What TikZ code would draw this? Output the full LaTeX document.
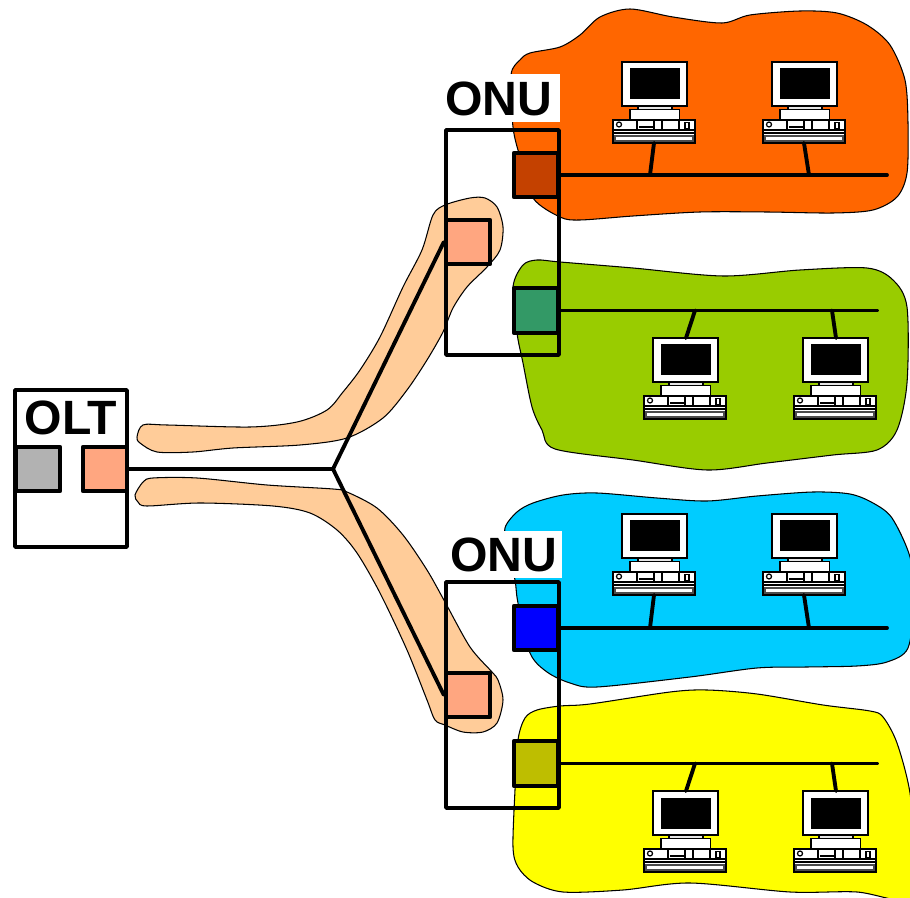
\documentclass[tikz,border=0pt]{standalone}
\usepackage{fontspec}
\setmainfont{Liberation Sans}
\definecolor{orangeblob}{RGB}{255,102,0}
\definecolor{greenblob}{RGB}{153,204,0}
\definecolor{blueblob}{RGB}{0,204,255}
\definecolor{yellowblob}{RGB}{255,255,0}
\definecolor{fibreblob}{RGB}{255,204,153}
\definecolor{portpeach}{RGB}{255,166,128}
\definecolor{portorange}{RGB}{196,65,0}
\definecolor{portgreen}{RGB}{51,153,102}
\definecolor{portblue}{RGB}{0,0,255}
\definecolor{portolive}{RGB}{190,190,0}
\definecolor{portgray}{RGB}{178,178,178}
\tikzset{
  blob/.style={draw=black, line width=0.6pt},
  wire/.style={draw=black, line width=2.2pt, line cap=round},
  box/.style={draw=black, line width=2.2pt, line join=round},
  port/.style={draw=black, line width=2.2pt, line join=round, minimum size=0.89cm, inner sep=0pt},
  title/.style={fill=white, font=\bfseries\fontsize{27.4}{28}\selectfont, inner sep=0pt},
  pc/.pic={
    \begin{scope}[draw=black, line width=0.7pt, fill=white]
      % Monitor
      \filldraw (0,0) rectangle (65,44);
      \fill[black] (8,6.5) rectangle (58,37.5);
      \filldraw[fill=black!10] (16,44) rectangle (50,47.5);
      \filldraw (8,47.5) rectangle (57.5,58);
      % Tastiera
      \filldraw (-9,58) rectangle (73,81);
      \draw (-9,68) -- (73,68) (-9,71) -- (73,71);
      \filldraw[draw=black!70, line width=1pt] (-7,74) rectangle (71,79);
      \draw (-3,62.5) circle (2.5);
      \draw (15,58) -- (15,68) (32,58) -- (32,68) (40,58) -- (40,68) (57,58) -- (57,68);
      \draw (17,65) -- (31,65);
      \draw (63,60.5) rectangle (67,67);
    \end{scope}
    \coordinate (-top) at (33,0);
    \coordinate (-bottom) at (32,81);
  }
}
\begin{document}
\begin{tikzpicture}[x=0.02cm, y=-0.02cm]
  \useasboundingbox (0,0) rectangle (910,898);

  % Nuvole
  \begin{scope}
    \clip (0,0) rectangle (910,898);
    \draw[blob, fill=orangeblob] plot[smooth cycle, tension=0.5] coordinates {(511,75) (520,60) (530,53) (560,47) (580,35) (600,17) (630,9) (673,17) (722,23) (750,15) (800,11) (837,13) (867,25) (890,45) (905,80) (908,123) (907,173) (897,197) (873,210) (833,213) (767,212) (700,212) (633,216) (580,220) (560,217) (533,198) (520,157) (513,127)};
    \draw[blob, fill=greenblob] plot[smooth cycle, tension=0.5] coordinates {(513,287) (523,265) (537,260) (560,262) (633,268) (723,276) (800,270) (867,268) (893,280) (907,307) (907,383) (897,430) (877,450) (833,455) (767,463) (707,470) (633,460) (555,449) (542,430) (532,407) (523,363) (517,333)};
    \draw[blob, fill=blueblob] plot[smooth cycle, tension=0.5] coordinates {(505,528) (517,512) (533,503) (563,495) (597,493) (657,498) (707,501) (757,496) (813,492) (850,494) (873,503) (892,518) (910,557) (914,600) (908,648) (887,662) (857,666) (807,667) (757,668) (690,677) (597,687) (570,683) (547,672) (530,653) (518,603) (515,580) (508,550)};
    \draw[blob, fill=yellowblob] plot[smooth cycle, tension=0.5] coordinates {(518,740) (525,718) (537,710) (560,706) (590,704) (670,692) (707,690) (757,694) (823,705) (870,711) (883,717) (897,743) (910,793) (915,860) (910,900) (857,892) (790,892) (690,883) (623,890) (563,892) (533,882) (518,867) (513,847) (515,790)};
    \draw[blob, fill=fibreblob] plot[smooth cycle, tension=0.5] coordinates {(137,437) (143,425) (167,425) (250,427) (297,422) (327,410) (343,392) (360,370) (380,337) (403,287) (422,250) (433,215) (445,205) (470,198) (485,198) (497,207) (503,227) (500,250) (487,267) (467,287) (453,308) (443,332) (427,360) (407,390) (383,418) (347,438) (300,445) (233,448) (193,452) (157,452) (140,443)};
    \draw[blob, fill=fibreblob] plot[smooth cycle, tension=0.5] coordinates {(135,495) (143,482) (153,478) (197,478) (267,485) (333,489) (347,492) (377,508) (403,535) (427,570) (445,602) (470,647) (492,672) (498,680) (503,700) (497,723) (483,732) (463,732) (445,725) (435,720) (427,700) (407,650) (380,593) (357,553) (337,530) (310,513) (273,506) (200,503) (147,506) (138,502)};
  \end{scope}

  % OLT
  \node (oltbox) at (71,468.5) [box, fill=white, minimum width=2.24cm, minimum height=3.14cm] {};
  \node (olt) at (71,418) [title, fill=none] {OLT};
  \node (oltgray) at (38,469) [port, fill=portgray] {};
  \node (oltport) at (105,469) [port, fill=portpeach] {};
  \coordinate (split) at (333,469);

  % ONU superiore
  \node (onuA) at (502.5,98.5) [title, text width=2.3cm, minimum height=0.96cm, align=left] {ONU};
  \node (onuAbox) at (502.5,242.5) [box, minimum width=2.26cm, minimum height=4.5cm] {};
  \node (fibreA) at (468,242) [port, fill=portpeach] {};
  \node (portA) at (536,175) [port, fill=portorange] {};
  \node (portB) at (536,310.5) [port, fill=portgreen] {};

  % ONU inferiore
  \node (onuB) at (506,554.5) [title, text width=2.24cm, minimum height=0.96cm, align=left] {ONU};
  \node (onuBbox) at (502.5,695) [box, minimum width=2.26cm, minimum height=4.52cm] {};
  \node (fibreB) at (468,695) [port, fill=portpeach] {};
  \node (portC) at (536,628) [port, fill=portblue] {};
  \node (portD) at (536,763.5) [port, fill=portolive] {};

  % Collegamenti
  \draw[wire] (oltport.east) -- (split);
  \draw[wire] (split) -- (fibreA.west);
  \draw[wire] (split) -- (fibreB.west);

  % Bus
  \coordinate (busA) at (887,175);
  \coordinate (busB) at (877,310.5);
  \coordinate (busC) at (887,628);
  \coordinate (busD) at (877,763.5);
  \draw[wire] (portA.east) -- (busA);
  \draw[wire] (portB.east) -- (busB);
  \draw[wire] (portC.east) -- (busC);
  \draw[wire] (portD.east) -- (busD);

  % Computer
  \pic (pcA) at (622,62) {pc};
  \pic (pcB) at (772,62) {pc};
  \pic (pcC) at (653,338) {pc};
  \pic (pcD) at (803,338) {pc};
  \pic (pcE) at (622,514) {pc};
  \pic (pcF) at (772,514) {pc};
  \pic (pcG) at (653,791) {pc};
  \pic (pcH) at (803,791) {pc};
  \coordinate (tapA) at (650,175);
  \coordinate (tapB) at (809,175);
  \coordinate (tapC) at (695,310.5);
  \coordinate (tapD) at (832,310.5);
  \coordinate (tapE) at (650,628);
  \coordinate (tapF) at (809,628);
  \coordinate (tapG) at (695,763.5);
  \coordinate (tapH) at (832,763.5);
  \draw[wire] (pcA-bottom) -- (tapA);
  \draw[wire] (pcB-bottom) -- (tapB);
  \draw[wire] (pcC-top) -- (tapC);
  \draw[wire] (pcD-top) -- (tapD);
  \draw[wire] (pcE-bottom) -- (tapE);
  \draw[wire] (pcF-bottom) -- (tapF);
  \draw[wire] (pcG-top) -- (tapG);
  \draw[wire] (pcH-top) -- (tapH);
\end{tikzpicture}
\end{document}
